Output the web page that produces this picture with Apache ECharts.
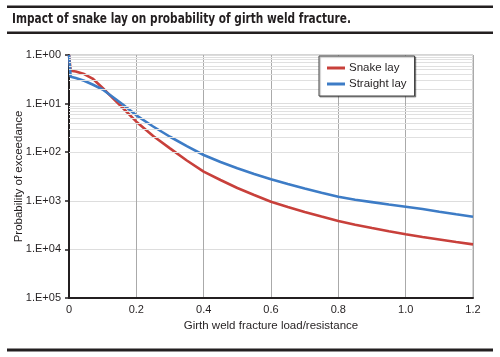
<!DOCTYPE html>
<html>
<head>
<meta charset="utf-8">
<script src="https://cdn.jsdelivr.net/npm/echarts@6/dist/echarts.min.js"></script>
<style>
html,body{margin:0;padding:0;background:#fff;}
#c{width:500px;height:357px;}
</style>
</head>
<body>
<div id="c"></div>
<script>
var titleText = 'Impact of snake lay on probability of girth weld fracture.';
var seriesNames = ['Snake lay', 'Straight lay'];
var xValues = [0, 0.005, 0.02, 0.045, 0.07, 0.1, 0.13, 0.16, 0.2, 0.25, 0.3, 0.35, 0.4, 0.45, 0.5, 0.55, 0.6, 0.65, 0.7, 0.75, 0.8, 0.85, 0.9, 0.95, 1.0, 1.05, 1.1, 1.15, 1.2];
var snakeLay = [1, 0.475, 0.458, 0.406, 0.328, 0.2095, 0.130, 0.0812, 0.0425, 0.0216, 0.0120, 0.00675, 0.00397, 0.00268, 0.00183, 0.00132, 0.000958, 0.000745, 0.000588, 0.000475, 0.000384, 0.000322, 0.000275, 0.000236, 0.000205, 0.000180, 0.000160, 0.000142, 0.000127];
var straightLay = [1, 0.358, 0.336, 0.296, 0.247, 0.195, 0.137, 0.0958, 0.0574, 0.0338, 0.0208, 0.0134, 0.00876, 0.00628, 0.00466, 0.00356, 0.00277, 0.00222, 0.00179, 0.00147, 0.00121, 0.00105, 0.000940, 0.000839, 0.000757, 0.000678, 0.000597, 0.000527, 0.000471];
var xTickLabels = ['0', '0.2', '0.4', '0.6', '0.8', '1.0', '1.2'];
var yTickLabels = ['1.E+05', '1.E+04', '1.E+03', '1.E+02', '1.E+01', '1.E+00'];
var xAxisName = 'Girth weld fracture load/resistance';
var yAxisName = 'Probability of exceedance';

function pairs(xs, ys) { return xs.map(function (x, i) { return [x, ys[i]]; }); }

var minorLines = [];
for (var d = 1; d <= 5; d++) {
  for (var k = 2; k <= 9; k++) {
    minorLines.push({ yAxis: k * Math.pow(10, -d) });
  }
}

var FONT = '"Liberation Sans", Arial, Helvetica, sans-serif';
var chart = echarts.init(document.getElementById('c'), null, { renderer: 'canvas' });
chart.setOption({
  animation: false,
  backgroundColor: '#fff',
  textStyle: { fontFamily: FONT },
  graphic: [
    { type: 'rect', shape: { x: 7, y: 5.5, width: 486, height: 2.5 }, style: { fill: '#231f20' } },
    { type: 'text', x: 12, y: 12, scaleX: 0.81, style: { text: titleText, fill: '#231f20', font: 'bold 14.5px "DejaVu Sans Condensed", "DejaVu Sans", sans-serif' } },
    { type: 'rect', shape: { x: 7, y: 31.5, width: 486, height: 2.5 }, style: { fill: '#231f20' } },
    { type: 'rect', shape: { x: 7, y: 348.5, width: 486, height: 3 }, style: { fill: '#231f20' } }
  ],
  grid: { left: 69, right: 27, top: 55, bottom: 59, show: true, borderColor: '#aaa', borderWidth: 1, backgroundColor: 'transparent', containLabel: false, outerBoundsMode: 'none' },
  legend: {
    data: seriesNames,
    z: 20,
    orient: 'vertical',
    left: 319, top: 56,
    backgroundColor: '#fff',
    borderColor: '#444', borderWidth: 1,
    padding: [6, 8, 6, 8],
    itemWidth: 18, itemHeight: 3, itemGap: 4,
    icon: 'rect',
    shadowColor: 'rgba(0,0,0,0.35)', shadowOffsetX: 1, shadowOffsetY: 1, shadowBlur: 1,
    textStyle: { fontFamily: FONT, fontSize: 11.5, color: '#231f20', padding: [0, 0, 0, -1] }
  },
  xAxis: {
    type: 'value', min: 0, max: 1.2, interval: 0.2,
    name: xAxisName, nameLocation: 'middle', nameGap: 21,
    nameTextStyle: { fontFamily: FONT, fontSize: 11.5, color: '#231f20' },
    axisLine: { show: true, lineStyle: { color: '#231f20', width: 2 } },
    axisTick: { show: false },
    axisLabel: { color: '#231f20', fontSize: 11, margin: 6, formatter: function (v) { return xTickLabels[Math.round(v / 0.2)]; } },
    splitLine: { show: true, lineStyle: { color: '#aaa', width: 1 } }
  },
  yAxis: {
    type: 'log', logBase: 10, min: 1e-5, max: 1,
    name: yAxisName, nameLocation: 'middle', nameGap: 44, nameMoveOverlap: false,
    nameTextStyle: { fontFamily: FONT, fontSize: 11.5, color: '#231f20' },
    axisLine: { show: true, lineStyle: { color: '#231f20', width: 2 } },
    axisTick: { show: true, length: 4, lineStyle: { color: '#231f20', width: 1.5 } },
    axisLabel: { color: '#231f20', fontSize: 11, margin: 8, formatter: function (v) { return yTickLabels[Math.round(Math.log10(v)) + 5]; } },
    splitLine: { show: true, lineStyle: { color: '#ddd', width: 1 } }
  },
  series: [
    {
      name: 'minor', type: 'line', data: [], z: 1, silent: true,
      markLine: { silent: true, symbol: ['none', 'none'], label: { show: false }, lineStyle: { color: '#e0e0e0', type: 'solid', width: 1 }, data: minorLines, animation: false }
    },
    { name: seriesNames[0], type: 'line', data: pairs(xValues, snakeLay), showSymbol: false, z: 3, lineStyle: { color: '#c8403b', width: 2.6 }, itemStyle: { color: '#c8403b' } },
    { name: seriesNames[1], type: 'line', data: pairs(xValues, straightLay), showSymbol: false, z: 4, lineStyle: { color: '#3d7cc6', width: 2.6 }, itemStyle: { color: '#3d7cc6' } }
  ]
});
</script>
</body>
</html>
